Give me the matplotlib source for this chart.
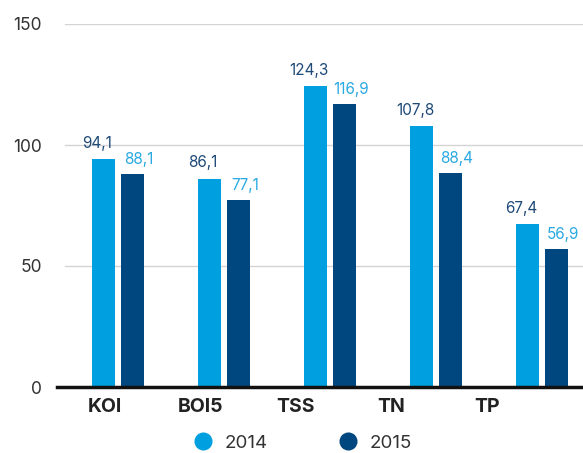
import numpy as np
import matplotlib
matplotlib.use('Agg')
import matplotlib.pyplot as plt
from matplotlib.lines import Line2D

categories = ["KOI", "BOI5", "TSS", "TN", "TP"]
vals_2014 = [94.1, 86.1, 124.3, 107.8, 67.4]
vals_2015 = [88.1, 77.1, 116.9, 88.4, 56.9]
series_names = ["2014", "2015"]
y_ticks = [0, 50, 100, 150]

c14 = "#009fdf"
c15 = "#00467f"
lbl14 = "#1f4a78"
lbl15 = "#2aa9e2"

plt.rcParams['font.family'] = ['Inter', 'DejaVu Sans']

W, H = 583, 453
fig = plt.figure(figsize=(W / 100, H / 100), dpi=100)
ax = fig.add_axes([57 / W, 66 / H, 526 / W, 363 / H])

x = np.arange(len(categories))
bw = 0.217
off = 0.137
ax.bar(x - off, vals_2014, width=bw, color=c14, zorder=3)
ax.bar(x + off, vals_2015, width=bw, color=c15, zorder=3)

def fmt(v):
    return f"{v:.1f}".replace(".", ",")

for xi, v in zip(x, vals_2014):
    ax.annotate(fmt(v), (xi - off, v), xytext=(-4.5, 6), textcoords="offset points",
                ha="center", va="bottom", color=lbl14, fontsize=11)
for xi, v in zip(x, vals_2015):
    ax.annotate(fmt(v), (xi + off, v), xytext=(4.5, 5), textcoords="offset points",
                ha="center", va="bottom", color=lbl15, fontsize=11)

ax.set_xlim(-0.575, 4.387)
ax.set_ylim(0, 150)

for yv in y_ticks[1:]:
    ax.axhline(yv, xmin=0.015, xmax=1, color="#d4d4d4", lw=1, zorder=1)
ax.axhline(0, color="#111111", lw=2.5, zorder=4, clip_on=False)

ax.set_yticks(y_ticks)
ax.set_yticklabels([str(v) for v in y_ticks], fontsize=12.5, color="#333333")
ax.tick_params(axis="y", length=0, pad=11)

ax.set_xticks(-0.123 + 0.901 * x)
ax.set_xticklabels(categories, fontsize=14, fontweight="bold", color="#222222")
ax.tick_params(axis="x", length=0, pad=8)

for s in ax.spines.values():
    s.set_visible(False)

handles = [Line2D([0], [0], marker="o", ls="", markersize=13, color=c, markeredgewidth=0)
           for c in (c14, c15)]
fig.legend(handles, series_names, loc="center", bbox_to_anchor=(298 / W, 1 - 443 / H),
           ncol=2, frameon=False, fontsize=13.5, handletextpad=0.15, columnspacing=3.3,
           labelcolor="#333333", borderpad=0)

plt.savefig("out.png", dpi=100)
plt.close()
